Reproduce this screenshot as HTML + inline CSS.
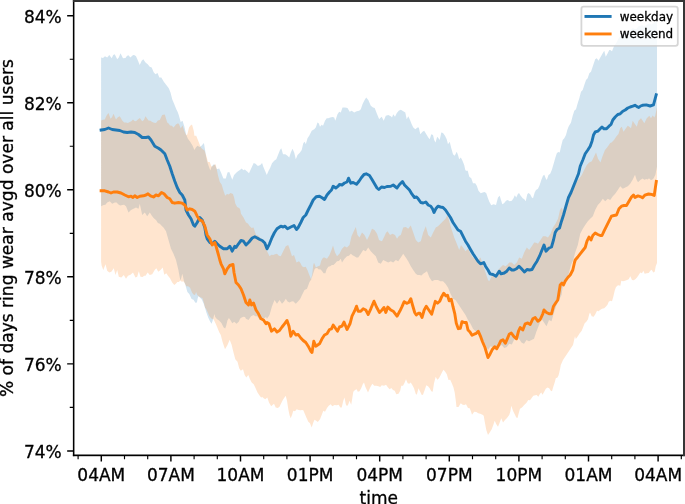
<!DOCTYPE html>
<html lang="en"><head><meta charset="utf-8"><title>ring wear by time of day</title>
<style>html,body{margin:0;padding:0;background:#fff;overflow:hidden}svg{display:block;will-change:transform}text{font-family:"DejaVu Sans","Liberation Sans",sans-serif;fill:#000;stroke:#000;stroke-width:.3px}</style>
</head><body>
<svg width="685" height="504" viewBox="0 0 685 504">
<rect width="685" height="504" fill="#fff"/>
<clipPath id="ax"><rect x="73.66" y="0.8" width="610.24" height="454.5"/></clipPath>
<g clip-path="url(#ax)">
<polygon points="101.1,57.5 103.0,58.0 105.0,56.3 107.2,57.5 109.3,55.0 111.7,58.3 113.2,55.1 114.7,54.2 117.2,59.2 118.8,57.4 120.5,53.3 123.0,58.3 125.5,58.0 126.9,56.1 128.3,55.3 130.5,57.5 131.9,56.0 133.3,55.0 134.7,55.2 136.0,56.3 138.0,60.8 139.7,65.0 141.7,60.8 143.3,59.2 145.5,62.5 147.7,64.2 149.7,66.7 151.7,67.5 153.8,72.5 155.5,74.2 157.5,73.0 159.3,77.5 161.3,77.5 163.8,81.7 166.3,85.0 168.8,88.3 170.5,92.5 172.2,99.2 174.3,104.2 176.3,109.2 177.8,112.3 178.9,115.5 180.7,122.0 182.5,120.8 184.3,126.2 186.1,134.5 187.9,138.7 190.2,141.7 192.6,145.8 194.4,150.0 195.9,147.5 197.4,145.8 199.8,147.0 201.5,145.8 203.9,142.9 205.1,150.0 206.1,157.1 207.3,161.9 208.9,166.7 210.3,170.5 211.5,166.9 213.3,164.5 215.0,164.7 216.8,169.2 219.2,168.5 221.0,172.6 223.4,178.6 225.8,178.6 227.5,172.6 229.3,172.0 231.1,176.8 232.3,179.8 234.1,175.0 236.5,172.6 238.0,171.2 239.5,170.2 241.8,168.5 243.3,170.2 244.8,169.6 247.2,171.4 249.0,173.2 251.4,167.9 253.7,163.1 255.5,163.7 257.9,166.1 260.3,164.9 262.1,163.1 263.3,166.7 265.0,170.8 266.8,175.0 268.6,170.8 270.0,168.3 272.0,163.3 274.2,160.8 276.3,159.2 278.3,154.2 280.0,150.0 281.3,148.3 283.0,154.2 285.3,154.2 287.5,155.8 289.2,157.5 290.8,152.5 292.5,148.7 294.2,152.5 295.8,159.2 297.5,155.0 300.0,152.5 301.7,150.0 303.3,143.3 304.7,141.7 305.8,144.2 307.5,138.3 309.2,135.8 311.7,130.8 314.2,129.2 315.8,127.5 317.5,122.5 318.7,123.3 320.0,126.7 321.7,124.7 323.0,125.8 325.0,120.8 326.7,118.3 328.3,118.3 330.3,117.5 332.5,117.0 334.2,117.5 335.3,120.8 337.5,114.2 339.2,111.7 340.8,112.5 342.5,107.5 345.0,107.5 347.5,108.0 349.7,111.7 351.7,110.8 354.2,112.5 356.7,111.3 359.2,110.8 360.8,109.2 362.5,104.2 364.2,100.8 366.2,97.5 368.3,100.0 370.8,105.8 373.0,107.5 374.7,108.0 376.7,113.3 379.2,119.2 380.0,118.3 381.7,116.7 383.7,120.8 385.8,115.8 388.3,115.0 390.8,116.3 392.0,117.5 393.3,114.2 395.0,116.7 396.7,113.3 398.7,110.8 400.8,109.7 403.3,111.3 405.3,112.5 406.7,119.2 408.3,116.3 410.0,120.0 411.7,124.2 413.3,127.5 415.3,129.2 417.5,127.5 418.8,127.5 420.3,134.2 422.5,131.7 424.2,130.8 426.3,134.2 428.3,137.5 429.7,139.2 431.3,134.2 433.0,135.0 434.2,140.0 435.5,142.5 437.2,136.7 438.3,138.0 439.7,140.0 441.3,132.5 443.0,133.0 445.0,135.8 446.7,139.2 448.0,144.2 449.7,141.7 451.3,148.3 453.0,154.2 454.7,155.8 456.7,151.7 458.0,155.0 459.2,159.2 460.8,157.5 462.5,160.8 464.2,165.0 465.3,170.0 466.0,170.8 467.7,170.8 469.3,176.7 471.3,178.3 473.0,183.3 475.2,183.3 476.8,185.8 478.5,190.8 480.7,193.3 482.7,192.5 484.7,192.0 486.3,193.3 487.7,197.5 489.3,201.7 491.3,205.3 493.5,204.2 496.0,205.0 498.0,197.5 499.7,195.8 501.0,200.0 502.3,204.2 504.0,203.3 506.0,200.8 507.7,200.0 509.7,201.3 511.8,200.8 513.5,198.3 514.8,195.3 516.3,197.5 517.7,194.2 519.0,193.0 520.7,195.8 522.7,198.3 524.3,199.2 525.7,201.3 527.3,194.2 528.5,193.0 530.2,194.2 531.8,197.5 533.0,198.3 534.7,192.5 536.0,190.0 538.0,188.7 539.7,185.0 541.3,180.0 543.0,175.8 544.3,174.7 545.7,178.3 546.8,180.0 548.5,175.0 550.2,173.7 551.8,170.0 553.5,164.2 555.2,158.3 556.8,153.3 558.2,152.0 559.7,152.5 561.0,146.7 562.7,140.0 564.3,138.3 566.0,135.0 567.3,130.0 568.5,126.7 571.0,122.5 572.7,115.8 574.3,110.8 576.0,109.2 577.7,103.3 579.3,98.3 581.0,91.7 582.7,90.0 584.3,85.0 586.0,80.0 587.7,78.3 589.3,73.3 591.0,71.7 593.0,65.8 595.2,59.2 596.8,58.3 598.5,60.8 600.7,56.7 602.7,53.3 604.3,50.8 605.7,56.7 607.7,53.3 609.3,50.0 610.2,50.0 612.0,51.2 614.0,46.2 616.5,42.5 619.0,37.5 621.5,35.0 623.4,34.2 625.2,33.0 627.1,30.8 629.0,31.2 630.9,30.0 632.8,28.0 634.6,29.0 636.5,29.0 638.4,26.3 640.2,26.0 642.1,25.0 644.0,26.5 645.9,25.5 647.8,24.0 649.6,23.5 651.5,24.5 654.0,23.0 656.0,21.5 657.0,21.0 657.0,166.5 655.4,174.8 653.5,178.6 652.1,179.8 650.8,180.1 649.0,178.2 647.6,179.6 646.3,179.0 644.4,179.8 642.5,178.6 640.3,180.1 638.0,182.3 636.5,179.4 635.0,174.8 632.8,179.5 630.2,183.8 627.8,186.2 625.2,187.5 622.8,188.8 620.2,186.2 617.8,190.0 615.2,193.8 612.8,196.2 610.2,200.0 607.8,198.8 605.2,201.2 602.8,198.8 600.2,202.5 597.8,205.0 595.2,210.0 592.8,216.2 590.2,218.8 587.8,221.2 585.2,225.0 582.8,228.8 580.2,233.8 577.8,245.0 575.2,252.5 573.2,260.0 571.0,265.0 569.0,272.5 567.8,277.5 565.2,283.8 562.8,286.2 561.5,295.0 559.0,300.0 556.5,305.0 554.0,312.5 551.5,321.2 549.0,320.0 546.5,326.2 544.0,322.5 541.5,318.8 539.0,325.0 536.5,331.2 534.0,338.8 531.5,340.0 529.0,341.2 526.5,340.0 524.0,343.8 521.5,342.5 519.0,338.8 516.5,337.5 514.0,340.0 511.8,344.5 509.2,343.8 506.8,347.0 504.2,348.0 501.8,345.0 499.2,346.2 496.8,348.8 495.1,347.3 493.5,347.5 492.0,346.7 490.5,346.2 488.0,350.0 485.5,345.0 483.0,340.0 480.5,335.0 478.0,332.5 475.5,331.2 473.0,328.8 470.5,323.8 468.0,320.0 465.5,315.0 463.0,311.2 460.5,307.5 458.0,303.8 455.5,300.0 453.0,298.8 450.5,293.8 448.0,287.5 445.5,283.8 443.0,281.2 440.5,281.2 438.0,280.0 437.0,280.0 434.5,280.0 432.0,281.2 429.5,277.5 427.0,271.2 425.1,272.4 423.2,273.8 421.4,275.5 419.5,275.0 417.6,274.9 415.8,273.8 413.2,270.0 410.8,266.2 408.2,261.2 405.8,257.5 403.2,253.8 400.8,257.5 398.2,261.2 395.8,260.0 393.2,262.5 390.8,261.2 388.2,262.5 385.8,261.2 383.2,260.0 380.8,263.8 378.2,262.5 375.8,256.2 373.2,253.8 370.8,251.2 368.2,247.5 365.8,251.2 363.2,250.0 360.8,253.8 358.2,257.5 356.4,257.4 354.5,256.2 352.6,255.3 350.8,253.8 348.9,255.8 347.0,256.2 344.5,258.8 342.0,262.5 340.8,258.8 338.9,261.1 337.0,261.2 335.0,263.4 333.4,265.1 331.9,264.9 330.1,266.2 328.3,266.7 326.5,269.6 325.4,273.2 323.6,273.3 321.8,270.8 320.3,269.2 318.8,269.6 317.1,267.9 315.5,268.2 314.6,269.3 312.9,274.2 311.2,279.6 309.5,282.0 307.0,288.8 304.5,290.0 302.0,295.0 300.1,298.9 298.2,301.2 295.8,303.8 293.2,301.2 291.4,301.4 289.5,302.5 287.6,301.6 285.8,298.8 283.9,301.7 282.0,303.8 279.5,300.0 277.0,303.8 274.5,300.0 272.0,306.2 269.5,315.0 267.0,318.8 266.0,317.0 263.5,318.8 261.6,318.1 259.8,320.0 257.2,316.2 255.4,316.3 253.5,315.0 251.0,316.2 248.5,320.0 246.0,318.8 245.0,316.9 243.6,316.8 242.1,317.2 240.2,318.4 238.7,321.8 236.5,323.7 234.2,321.8 232.3,323.3 230.4,319.9 228.9,318.0 227.4,320.6 226.3,325.2 225.2,328.6 223.7,327.4 221.4,322.9 219.1,320.6 216.9,319.1 215.2,316.9 214.5,313.9 213.9,316.1 213.1,319.1 212.7,320.6 211.6,323.7 210.1,321.4 208.2,317.6 206.3,312.3 205.2,308.5 203.7,303.7 201.8,299.5 199.9,297.6 198.4,296.2 197.6,298.7 196.9,302.4 195.4,302.8 193.5,299.8 191.6,299.0 189.3,294.1 187.4,291.9 185.2,284.3 184.0,281.3 182.9,276.0 182.2,273.8 181.4,277.5 180.4,280.6 179.5,276.0 178.4,270.0 176.0,260.0 173.5,253.8 171.0,248.8 168.5,240.0 166.0,231.2 163.5,227.5 161.6,225.8 159.8,223.8 157.9,223.0 156.0,220.0 154.1,218.5 152.2,216.2 149.8,212.5 147.2,216.2 144.8,212.5 142.2,215.0 139.8,203.8 138.5,208.8 136.0,207.5 133.5,208.8 131.0,210.0 128.5,212.5 126.0,206.2 124.1,204.7 122.2,205.0 120.4,205.4 118.5,204.5 116.6,202.4 114.8,202.5 112.2,203.8 109.8,201.2 107.2,202.5 105.4,204.7 103.5,205.0 101.1,206.2" fill="#1f77b4" fill-opacity=".2"/>
<polygon points="101.1,120.5 102.9,119.7 104.8,119.5 106.6,115.4 108.5,113.0 110.5,118.8 112.0,117.3 113.5,113.8 116.0,119.5 117.9,117.3 119.8,116.2 122.2,120.5 124.1,122.4 126.0,122.5 127.9,123.1 129.8,122.0 131.4,121.3 133.0,119.5 134.5,121.1 136.0,121.2 137.9,119.6 139.8,118.0 142.2,121.2 143.9,119.9 145.5,116.2 147.0,118.5 148.5,120.5 150.4,120.8 152.2,122.0 154.1,122.8 156.0,123.0 157.9,120.4 159.8,120.0 162.2,115.0 164.8,114.5 167.2,122.5 168.6,123.4 170.0,125.6 171.8,125.8 173.6,127.4 176.0,124.4 177.4,123.5 178.9,123.8 180.7,128.6 182.5,125.6 184.3,131.0 186.1,135.1 187.3,134.5 189.0,127.4 190.5,125.6 192.0,124.4 193.8,131.0 194.4,135.7 196.2,135.7 198.6,141.7 200.4,146.4 201.5,148.2 203.0,149.4 204.5,150.6 206.7,157.1 207.9,161.9 209.7,161.9 211.2,166.1 212.1,166.7 213.9,164.9 215.6,164.3 216.8,169.6 218.0,175.6 219.8,182.1 221.6,184.5 223.4,190.5 225.2,195.8 227.0,194.0 228.7,194.6 230.5,192.9 232.9,194.0 234.1,197.6 235.3,203.6 237.1,207.1 239.5,208.3 240.3,210.0 241.0,213.8 243.5,217.5 246.0,222.5 247.9,223.6 249.8,226.2 251.6,227.9 253.5,227.5 256.0,235.0 257.9,235.3 259.8,237.5 261.6,238.5 263.5,241.2 266.0,245.0 267.0,251.2 269.5,256.2 271.4,254.8 273.2,255.0 275.1,254.3 277.0,253.8 278.9,255.7 280.8,256.2 283.2,251.2 285.8,246.2 288.2,245.0 290.0,250.0 292.0,256.2 294.0,255.0 296.5,262.5 299.0,261.2 300.5,263.2 302.0,266.2 303.9,267.3 305.7,266.7 307.5,270.2 309.3,275.0 311.1,279.2 312.3,273.8 313.2,265.5 314.0,262.8 315.0,264.9 315.8,267.6 317.6,266.4 320.0,265.5 321.2,260.7 323.0,257.7 324.5,257.5 327.0,258.8 329.5,255.0 331.5,250.0 333.0,245.5 335.0,252.5 337.0,256.2 339.5,253.8 342.0,248.8 344.5,246.2 347.0,247.5 349.5,245.0 351.5,236.2 353.2,232.5 355.8,227.0 357.5,235.0 359.5,237.5 362.0,232.5 364.5,235.0 367.0,240.0 369.5,235.0 372.0,228.8 374.5,230.0 377.0,233.8 379.0,240.0 380.5,240.8 382.0,241.2 384.5,236.2 386.0,232.7 387.5,231.2 390.0,235.0 392.5,233.8 395.0,235.0 397.0,238.8 398.9,236.1 400.8,235.0 403.2,227.5 405.8,227.0 408.2,228.8 410.8,225.5 413.2,232.5 415.8,240.0 418.2,242.5 420.8,241.2 423.2,232.5 425.8,226.2 428.2,235.0 430.8,237.5 433.2,232.5 435.8,227.5 438.0,226.2 440.5,223.8 443.0,221.2 445.5,218.8 447.5,215.0 449.2,221.2 451.8,230.0 454.2,237.5 456.8,243.8 459.2,250.0 461.0,245.0 463.0,247.5 465.5,251.2 468.0,248.8 470.5,253.8 473.0,257.5 475.5,258.8 478.0,260.0 480.5,257.5 483.0,265.0 485.5,272.5 488.0,280.0 489.2,281.2 491.8,276.2 493.6,275.0 495.5,275.0 498.0,270.0 500.5,267.5 503.0,265.0 505.5,266.2 507.4,264.8 509.2,262.5 511.8,262.5 514.2,265.0 516.8,262.5 519.2,257.5 521.8,258.8 524.2,252.5 526.8,247.5 529.2,250.0 531.8,246.2 534.2,242.5 536.1,242.7 538.0,243.8 540.5,240.0 543.0,236.2 545.5,236.2 548.0,237.5 550.5,233.8 553.0,227.5 555.5,223.8 558.0,218.8 560.0,210.0 561.8,207.5 563.0,211.2 565.5,202.5 568.0,197.5 570.5,191.2 571.8,190.0 574.2,186.2 576.8,181.2 579.2,178.8 581.8,175.0 584.2,170.0 586.8,165.0 589.2,162.5 591.8,161.2 594.2,156.2 596.0,152.5 598.0,158.8 600.5,162.5 602.5,156.2 605.0,150.0 607.5,147.0 608.9,145.0 610.2,143.0 611.5,142.5 614.0,140.0 616.5,136.2 618.5,134.0 620.2,128.3 621.8,126.7 623.5,131.7 626.0,128.3 627.7,125.8 629.3,126.7 631.0,128.3 632.7,120.8 634.3,123.3 636.8,126.7 638.5,120.8 641.0,118.3 642.7,120.8 644.3,123.3 646.8,118.3 649.3,115.8 651.0,118.3 652.7,115.5 654.3,117.5 655.3,115.5 657.0,107.0 657.0,263.0 655.8,266.0 654.7,271.7 653.3,272.5 651.7,269.7 650.3,270.8 648.7,273.0 646.7,273.3 644.7,273.7 643.3,270.8 642.0,273.3 640.3,272.5 638.7,275.0 637.0,277.5 635.3,279.2 633.7,280.3 632.0,280.0 630.3,276.3 628.7,279.2 627.0,280.0 625.0,280.8 623.0,281.3 621.3,280.8 620.3,285.8 618.7,285.3 617.2,285.8 615.8,287.5 614.7,290.8 613.3,296.7 612.0,301.3 610.3,300.8 608.7,301.7 607.5,304.7 605.8,306.7 604.2,308.3 602.0,308.7 600.0,310.0 598.7,311.3 597.0,310.8 595.3,314.2 593.7,316.7 591.7,316.3 590.0,312.5 589.2,314.2 588.0,319.2 586.3,321.7 584.7,323.3 583.3,326.7 581.7,330.8 579.7,333.3 577.5,336.7 575.8,339.0 575.0,336.2 573.0,345.0 570.5,348.8 568.0,352.5 565.5,356.2 563.0,360.0 560.8,365.0 560.0,369.2 558.7,375.0 557.5,377.5 555.8,378.3 554.7,382.5 553.3,386.7 552.0,391.3 550.8,390.8 549.2,388.3 547.5,387.5 545.8,388.7 544.2,391.7 542.5,394.7 541.3,392.5 540.0,393.7 538.3,396.7 536.7,395.0 535.3,395.3 533.3,395.8 531.7,398.0 530.0,400.3 528.3,400.0 526.3,403.0 524.2,405.0 522.0,407.5 520.0,408.7 518.7,413.3 517.5,418.0 516.3,417.5 514.7,414.2 513.0,410.8 511.3,405.8 510.3,411.7 509.2,415.0 507.0,418.0 505.0,420.0 503.0,422.5 501.3,418.3 499.7,422.5 498.0,426.7 496.3,424.2 494.7,420.8 493.3,425.0 491.7,429.2 489.7,432.5 488.0,435.0 486.3,430.0 485.0,423.3 483.7,415.8 482.5,414.7 480.3,413.7 478.3,413.3 476.3,412.0 474.2,411.7 472.0,414.7 471.0,411.5 469.7,408.3 468.0,408.0 466.0,404.2 464.3,405.0 462.7,404.7 460.7,403.3 458.5,407.0 456.5,407.0 455.7,400.0 454.7,392.5 453.5,387.5 451.8,383.3 450.2,379.7 448.5,380.0 446.8,374.2 445.2,371.7 443.5,369.7 442.3,371.7 440.7,375.0 439.0,378.3 437.3,379.7 435.7,376.7 434.0,383.3 432.7,391.7 431.3,391.3 429.7,388.3 428.0,386.3 426.3,385.3 424.7,390.0 423.0,394.7 421.8,395.0 420.2,391.7 418.5,388.3 416.8,394.7 415.7,393.7 414.0,388.3 412.3,385.0 410.7,382.5 409.3,383.7 407.7,383.3 406.0,379.2 404.7,382.5 403.0,385.8 401.3,385.8 400.2,390.8 398.5,393.7 396.3,394.2 394.7,390.8 393.0,390.0 391.3,388.0 389.7,389.2 388.0,387.5 386.0,384.7 384.0,385.8 381.8,385.3 380.2,387.0 378.5,386.3 376.3,385.8 374.3,385.8 372.3,383.7 370.2,387.5 368.0,392.5 366.0,388.3 365.3,386.7 364.0,382.5 362.8,384.2 361.2,388.3 359.5,391.3 357.8,391.7 356.7,389.2 355.0,390.0 353.3,391.7 352.3,398.3 351.2,404.7 349.5,400.8 348.3,404.2 347.0,406.3 345.8,404.2 344.5,397.5 343.3,400.8 341.7,407.5 340.3,407.5 338.7,404.7 336.7,405.3 334.5,405.0 332.3,406.3 330.7,404.2 328.7,405.8 327.0,408.0 325.0,411.7 323.3,410.8 321.7,415.0 320.0,419.2 317.8,422.0 316.2,420.8 314.5,419.7 313.3,422.5 311.7,427.5 310.0,423.3 308.3,421.7 306.7,418.3 305.0,414.2 303.3,410.3 302.0,410.1 300.7,410.3 298.7,410.0 296.7,409.2 295.0,411.3 293.3,410.8 292.0,415.0 290.7,418.3 289.5,415.0 288.3,409.2 287.0,400.8 285.7,395.8 284.5,397.5 282.8,400.0 281.2,403.3 279.5,406.7 277.8,408.0 275.7,407.5 274.0,403.7 272.8,404.7 271.2,406.3 269.0,402.5 267.3,397.5 265.3,399.2 263.7,398.3 262.0,396.7 261.3,397.8 259.7,395.8 257.5,392.5 255.3,387.5 253.7,384.2 251.7,382.5 250.0,379.2 248.3,375.0 246.3,377.5 244.7,375.0 243.0,369.2 240.8,370.8 239.2,368.3 237.5,361.7 235.3,359.2 233.3,351.7 231.7,345.0 229.7,339.7 227.5,345.0 225.0,349.2 222.5,341.7 220.8,335.0 219.1,332.0 217.6,328.2 215.7,323.7 213.9,319.9 213.1,319.1 211.2,318.4 209.3,316.1 207.4,311.6 205.8,308.3 205.2,308.0 204.0,303.2 202.5,298.3 201.0,297.5 199.9,297.1 198.4,296.0 197.2,294.9 196.1,291.9 195.0,294.9 193.5,294.5 192.0,292.6 190.1,287.7 188.2,286.2 186.3,286.2 184.8,283.2 183.3,281.3 181.8,281.7 180.3,280.6 178.8,281.9 177.3,282.1 176.3,283.3 174.3,285.0 172.2,282.5 170.0,278.3 168.0,275.8 166.3,273.3 164.3,274.7 162.7,267.5 160.5,270.0 158.3,271.7 156.3,268.3 154.7,270.0 152.2,274.2 149.7,275.0 147.7,272.5 145.5,275.8 144.1,275.7 142.7,277.0 140.5,276.7 138.8,271.3 137.2,276.7 135.5,277.5 133.0,272.5 130.5,274.7 128.0,275.8 126.0,278.7 123.8,275.0 121.3,277.5 118.8,276.7 117.2,270.0 115.5,275.0 113.8,268.3 111.3,271.7 109.3,272.5 107.2,270.8 105.5,264.2 103.3,270.0 101.7,265.8 101.1,261.7" fill="#ff7f0e" fill-opacity=".2"/>
<polyline points="101.1,130.0 104.8,129.5 108.5,128.0 112.2,129.5 116.0,130.0 119.8,130.5 123.5,132.0 127.2,132.5 131.0,132.0 134.8,132.5 138.5,134.5 142.2,137.5 146.0,137.5 148.5,137.0 151.0,140.0 154.8,146.2 158.5,148.2 161.0,150.0 164.8,153.8 167.2,160.0 169.8,166.2 172.2,173.8 174.8,181.2 177.2,187.5 179.8,192.5 182.2,195.0 184.8,200.0 186.0,210.0 188.5,215.0 191.0,218.8 193.5,225.0 194.8,226.2 197.2,222.5 199.8,217.5 202.2,220.0 204.8,227.5 206.0,235.0 207.2,238.8 209.8,242.5 212.2,243.8 214.8,241.2 217.2,243.8 219.8,246.2 223.5,248.8 227.2,248.8 229.8,246.2 232.2,251.2 234.8,246.2 236.0,247.5 238.5,243.8 241.0,240.5 243.5,241.2 246.0,245.0 249.0,242.0 252.2,238.0 254.8,236.8 257.2,238.0 259.8,239.5 262.2,240.5 264.8,243.0 267.0,248.8 269.5,243.8 272.0,237.5 274.5,232.5 277.0,228.8 280.8,226.2 283.2,227.0 285.0,226.2 287.5,228.8 290.8,227.0 294.0,225.5 296.5,229.5 298.2,227.5 300.8,222.5 303.2,217.5 305.8,215.0 308.2,210.0 310.8,205.0 313.2,200.0 316.2,196.8 319.5,196.2 322.5,198.0 324.5,199.5 327.0,195.0 329.5,192.0 331.5,190.0 333.2,186.2 335.8,188.0 338.2,186.2 339.5,184.5 342.0,185.0 344.5,183.0 347.0,182.0 348.5,178.2 350.8,183.2 353.2,182.5 356.5,184.2 359.0,181.2 361.5,177.5 364.0,174.5 366.2,173.8 369.5,175.5 372.0,179.5 374.5,183.8 377.0,188.0 378.8,189.5 381.5,187.0 384.5,187.5 387.0,186.5 390.8,186.2 393.2,185.0 397.0,188.0 399.5,184.5 402.5,181.5 404.5,185.0 407.0,187.5 409.5,190.0 412.0,194.2 414.5,197.5 416.5,197.0 418.2,198.8 420.8,202.5 423.2,203.0 425.8,202.0 428.2,205.0 430.8,206.2 432.5,208.8 434.0,212.5 435.8,208.8 438.0,206.2 440.5,207.0 443.0,207.5 445.5,210.0 448.0,213.8 450.5,217.5 453.0,222.5 455.5,226.2 458.0,230.0 460.5,231.2 463.0,236.2 465.5,241.2 468.0,245.0 470.5,249.5 473.0,253.8 475.5,257.5 478.0,261.2 480.5,263.8 483.8,262.5 485.5,266.2 488.0,270.0 490.0,273.8 493.0,274.5 496.0,276.2 499.2,271.2 501.0,273.8 504.2,273.0 506.8,271.2 509.2,268.0 511.8,270.0 514.0,270.0 516.5,268.8 519.0,266.2 521.5,268.8 524.5,272.0 527.0,269.5 529.5,270.0 532.0,269.5 534.5,265.0 537.0,261.2 539.5,256.2 542.0,250.0 544.0,245.0 546.0,251.2 549.0,248.0 551.5,247.0 553.5,240.0 555.2,232.5 557.0,229.5 559.5,228.0 561.5,221.2 563.5,215.0 566.0,206.2 568.5,197.5 571.0,192.5 573.5,186.2 576.0,180.0 578.5,173.8 580.2,166.2 582.8,160.0 585.2,153.8 587.8,150.0 590.2,146.2 592.0,141.2 593.5,135.0 595.2,132.0 597.8,131.2 600.2,128.8 602.0,127.0 604.0,128.8 606.5,128.8 609.0,126.2 611.0,124.5 612.8,120.0 615.2,117.0 617.8,114.5 620.2,113.8 622.8,111.2 625.2,110.0 627.8,108.0 630.2,107.0 632.8,106.2 635.0,105.3 637.0,106.6 638.8,107.5 640.6,106.0 642.5,105.3 646.3,104.9 650.1,106.0 653.5,104.9 656.2,94.7" fill="none" stroke="#1f77b4" stroke-width="2.9" stroke-linejoin="round" stroke-linecap="square"/>
<polyline points="101.1,190.8 104.8,190.8 108.5,192.0 111.0,193.0 113.5,192.0 117.2,192.0 121.0,193.0 124.8,195.0 128.5,196.8 131.0,196.2 133.0,197.5 134.8,195.8 137.2,197.5 139.8,196.2 143.5,195.8 146.0,195.0 148.0,193.8 150.5,195.8 153.5,197.0 156.0,195.0 158.5,195.8 161.5,192.5 164.0,193.8 167.2,197.5 169.8,198.8 172.2,202.5 174.8,203.2 178.5,202.5 182.2,203.2 184.8,205.0 187.2,210.0 189.8,208.8 192.2,209.5 194.8,211.2 197.2,216.2 199.8,220.0 202.2,220.8 204.8,226.2 207.2,235.0 209.8,238.8 212.2,245.0 214.8,242.5 216.0,246.2 218.5,255.0 219.8,260.0 221.0,263.8 223.5,268.8 224.8,273.8 227.2,268.8 229.8,265.5 233.0,264.5 234.0,272.5 236.0,282.5 238.5,285.0 241.0,288.8 243.5,295.0 246.0,302.5 248.5,305.0 249.8,300.0 251.5,305.0 253.5,303.0 256.0,310.0 258.5,313.8 261.0,318.8 263.5,320.0 266.0,323.8 267.0,322.5 269.0,323.8 271.5,331.2 274.5,328.8 277.0,332.0 279.5,330.5 282.0,327.0 284.5,323.8 287.0,320.5 289.0,326.2 290.8,336.2 293.2,331.2 295.8,335.0 298.2,334.5 300.8,338.0 303.2,340.5 305.8,342.5 308.2,346.2 310.8,351.2 312.0,352.5 313.8,341.2 315.8,346.2 319.5,343.8 322.0,338.8 324.5,335.0 327.0,333.8 329.5,329.5 331.5,328.8 333.2,325.0 335.8,328.8 337.5,331.2 339.5,327.0 342.0,326.2 344.0,322.0 347.0,329.5 350.0,323.8 352.0,316.2 354.5,311.2 356.5,306.2 358.2,311.2 360.8,311.2 363.2,308.8 365.8,310.0 368.2,314.5 370.8,308.8 374.0,301.2 376.5,307.0 379.5,312.5 382.0,310.0 384.0,307.5 385.8,312.5 387.8,307.0 390.8,310.0 393.2,311.2 397.0,316.2 400.0,310.8 402.0,306.7 404.2,301.7 406.7,303.3 408.7,302.5 410.8,298.7 412.5,305.0 414.7,312.5 416.3,315.0 418.3,313.3 420.0,313.3 422.0,317.5 424.2,310.0 426.3,306.3 428.3,309.2 431.7,314.2 433.3,308.3 435.3,301.3 437.5,303.3 439.7,301.3 441.7,296.7 443.7,293.3 445.8,295.8 447.5,295.3 449.2,300.8 451.3,299.2 453.0,306.7 454.7,313.3 456.3,323.3 458.3,328.7 460.3,328.3 462.0,321.7 464.2,322.5 466.3,322.5 468.0,330.0 470.0,332.0 472.0,335.3 474.2,334.2 476.3,333.3 478.3,331.3 480.3,335.8 482.5,341.7 485.0,347.5 486.7,353.3 488.0,357.5 490.0,354.2 492.5,349.2 494.7,346.7 496.7,348.7 499.2,344.2 500.8,340.8 503.0,339.7 505.3,343.3 507.5,338.3 509.2,334.2 511.3,333.0 514.0,336.7 516.5,338.8 518.5,331.2 520.2,327.5 522.8,330.0 525.2,323.8 527.8,323.0 530.2,324.5 532.8,318.8 535.2,317.5 537.8,321.2 540.2,319.5 542.8,313.8 544.0,310.0 546.5,312.5 549.0,313.8 551.5,313.8 553.5,306.2 556.0,302.5 557.8,300.0 559.0,292.5 560.2,285.0 562.0,283.0 563.5,285.0 565.2,281.2 567.8,277.5 570.2,275.0 572.8,270.0 574.5,262.5 575.2,260.0 577.8,257.0 580.2,253.8 582.8,250.5 585.2,247.5 587.0,241.2 589.0,237.0 591.0,240.0 592.8,235.5 595.2,233.0 597.8,234.5 600.2,235.5 602.0,235.5 604.0,231.2 606.5,226.2 609.0,221.2 611.5,216.2 614.0,215.5 616.5,215.0 619.0,208.8 621.5,206.2 624.0,205.5 626.5,205.5 629.0,201.2 631.5,197.0 633.5,195.0 635.0,197.4 638.0,195.9 640.3,196.6 642.5,197.8 644.8,195.2 648.6,194.0 651.6,194.4 654.2,195.5 656.3,181.4" fill="none" stroke="#ff7f0e" stroke-width="2.9" stroke-linejoin="round" stroke-linecap="square"/>
</g>
<path d="M101.30 455.3v6.3M170.90 455.3v6.3M240.50 455.3v6.3M310.10 455.3v6.3M379.70 455.3v6.3M449.30 455.3v6.3M518.90 455.3v6.3M588.50 455.3v6.3M658.10 455.3v6.3M73.66 450.90h-6.5M73.66 363.86h-6.5M73.66 276.82h-6.5M73.66 189.78h-6.5M73.66 102.74h-6.5M73.66 15.70h-6.5" stroke="#000" stroke-width="1.45" fill="none"/>
<path d="M78.10 455.3v3.9M124.50 455.3v3.9M147.70 455.3v3.9M194.10 455.3v3.9M217.30 455.3v3.9M263.70 455.3v3.9M286.90 455.3v3.9M333.30 455.3v3.9M356.50 455.3v3.9M402.90 455.3v3.9M426.10 455.3v3.9M472.50 455.3v3.9M495.70 455.3v3.9M542.10 455.3v3.9M565.30 455.3v3.9M611.70 455.3v3.9M634.90 455.3v3.9M681.30 455.3v3.9M73.66 407.38h-3.9M73.66 320.34h-3.9M73.66 233.30h-3.9M73.66 146.26h-3.9M73.66 59.22h-3.9" stroke="#000" stroke-width="1.15" fill="none"/>
<rect x="72.88" y="0" width="1.56" height="456.15" fill="#000"/>
<rect x="72.88" y="454.50" width="612.12" height="1.7" fill="#000"/>
<rect x="72.87" y="0" width="612.13" height="2" fill="#353535"/>
<rect x="683" y="0" width="2" height="456.09" fill="#363636"/>
<g font-size="17.0" text-anchor="middle">
<text x="101.30" y="480.95">04AM</text>
<text x="170.90" y="480.95">07AM</text>
<text x="240.50" y="480.95">10AM</text>
<text x="310.10" y="480.95">01PM</text>
<text x="379.70" y="480.95">04PM</text>
<text x="449.30" y="480.95">07PM</text>
<text x="518.90" y="480.95">10PM</text>
<text x="588.50" y="480.95">01AM</text>
<text x="658.10" y="480.95">04AM</text>
<text x="378.78" y="504.45">time</text>
</g>
<g font-size="17.0" text-anchor="end">
<text x="61.7" y="457.80">74%</text>
<text x="61.7" y="370.76">76%</text>
<text x="61.7" y="283.72">78%</text>
<text x="61.7" y="196.68">80%</text>
<text x="61.7" y="109.64">82%</text>
<text x="61.7" y="22.60">84%</text>
</g>
<text font-size="17.07" text-anchor="middle" transform="translate(13.2 228.15) rotate(-90)">% of days ring wear avgd over all users</text>
<rect x="581.4" y="6.7" width="96.4" height="39.1" rx="2.3" ry="2.3" fill="#fff" fill-opacity=".8" stroke="#ccc" stroke-opacity=".8" stroke-width="1.8"/>
<path d="M584.5 16.45h27.1" stroke="#1f77b4" stroke-width="2.9" fill="none"/>
<path d="M584.5 33.95h27.1" stroke="#ff7f0e" stroke-width="2.9" fill="none"/>
<text x="619.7" y="20.6" font-size="11.95">weekday</text>
<text x="619.7" y="38.0" font-size="11.95">weekend</text>
</svg>
</body></html>
